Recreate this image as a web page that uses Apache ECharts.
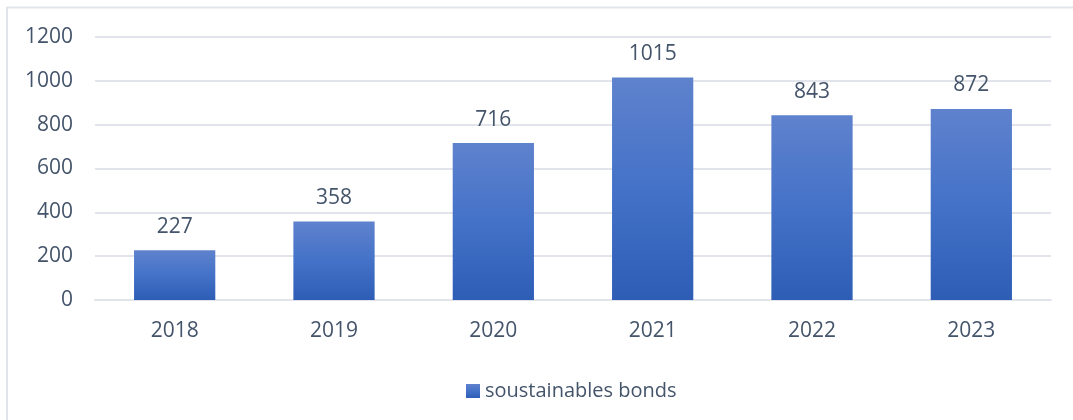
<!DOCTYPE html>
<html>
<head>
<meta charset="utf-8">
<script src="https://cdn.jsdelivr.net/npm/echarts@6/dist/echarts.min.js"></script>
<style>
html,body{margin:0;padding:0;background:#fff;}
#chart{width:1073px;height:420px;}
</style>
</head>
<body>
<div id="chart"></div>
<script>
const categories = ['2018', '2019', '2020', '2021', '2022', '2023'];
const seriesName = 'soustainables bonds';
const values = [227, 358, 716, 1015, 843, 872];
const yTicks = { min: 0, max: 1200, interval: 200 };

const textColor = '#44546A';
const fontFamily = '"Open Sans", "Noto Sans", sans-serif';
const fs = 21;
const chart = echarts.init(document.getElementById('chart'), null, { renderer: 'canvas' });
const barGradient = new echarts.graphic.LinearGradient(0, 0, 0, 1, [
  { offset: 0, color: '#5F82CD' },
  { offset: 0.5, color: '#4472C8' },
  { offset: 1, color: '#2E5DB6' }
]);
chart.setOption({
  animation: false,
  backgroundColor: '#fff',
  graphic: [{
    type: 'rect',
    shape: { x: 7, y: 7.5, width: 1090, height: 440 },
    style: { fill: 'none', stroke: '#E1E5EB', lineWidth: 2 },
    silent: true
  }],
  grid: { left: 95, right: 22, top: 37, bottom: 120, containLabel: false },
  legend: {
    top: 376,
    left: 461,
    itemWidth: 14,
    itemHeight: 14,
    itemGap: 8,
    icon: 'rect',
    textStyle: { color: textColor, fontSize: 20, fontFamily: fontFamily },
    data: [seriesName]
  },
  xAxis: {
    type: 'category',
    data: categories,
    axisLine: { show: true, lineStyle: { color: '#E1E5EB', width: 2 } },
    axisTick: { show: false },
    axisLabel: { color: textColor, fontSize: fs, fontFamily: fontFamily, margin: 21 }
  },
  yAxis: {
    type: 'value',
    min: yTicks.min,
    max: yTicks.max,
    interval: yTicks.interval,
    axisLine: { show: false },
    axisTick: { show: false },
    splitLine: { lineStyle: { color: '#E1E5EB', width: 2 } },
    axisLabel: { color: textColor, fontSize: fs, fontFamily: fontFamily, margin: 22, formatter: (v) => String(v) }
  },
  series: [{
    name: seriesName,
    type: 'bar',
    data: values,
    barWidth: '51%',
    itemStyle: { color: barGradient },
    label: {
      show: true,
      position: 'top',
      distance: 13,
      color: textColor,
      fontSize: fs,
      fontFamily: fontFamily
    }
  }]
});
</script>
</body>
</html>
